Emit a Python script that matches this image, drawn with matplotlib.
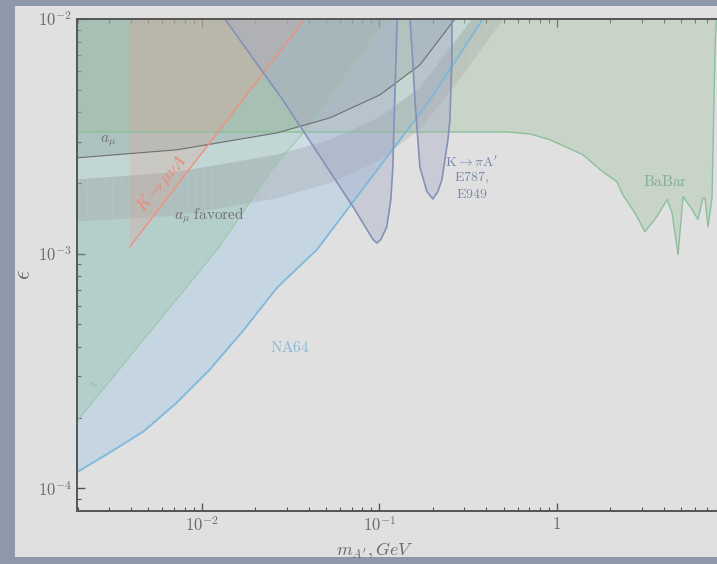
import matplotlib
matplotlib.use("Agg")
import matplotlib.pyplot as plt
from matplotlib.patches import Rectangle

plt.rcParams["mathtext.fontset"] = "cm"
plt.rcParams["font.family"] = "serif"
plt.rcParams["font.serif"] = ["DejaVu Serif"]
plt.rcParams["hatch.linewidth"] = 0.6

# --- data (mass in GeV, epsilon) ---
na64_m = [1.98e-3, 3.03e-3, 4.71e-3, 7.23e-3, 1.11e-2, 1.73e-2, 2.65e-2, 4.45e-2, 9.44e-2, 0.193, 0.383]
na64_eps = [1.17e-4, 1.42e-4, 1.75e-4, 2.32e-4, 3.21e-4, 4.75e-4, 7.16e-4, 1.04e-3, 2.21e-3, 4.52e-3, 1.0e-2]

ae_m = [1.98e-3, 4.71e-3, 1.22e-2, 2.55e-2, 4.06e-2, 0.110]
ae_eps = [1.93e-4, 4.31e-4, 1.04e-3, 2.34e-3, 3.54e-3, 1.0e-2]

babar_m = [1.0e-3, 0.52, 0.70, 0.91, 1.40, 1.75, 2.18, 2.35, 2.75, 3.13, 3.66, 4.17, 4.45,
           4.81, 5.13, 5.77, 6.23, 6.65, 6.82, 7.09, 7.47, 7.77, 7.9, 10.0]
babar_eps = [3.30e-3, 3.30e-3, 3.24e-3, 3.06e-3, 2.64e-3, 2.28e-3, 2.02e-3, 1.78e-3, 1.49e-3,
             1.24e-3, 1.44e-3, 1.70e-3, 1.49e-3, 9.9e-4, 1.75e-3, 1.54e-3, 1.40e-3, 1.73e-3,
             1.73e-3, 1.30e-3, 1.73e-3, 7.38e-3, 1.0e-2, 1.0e-2]

amu_m = [1.98e-3, 7.23e-3, 2.65e-2, 5.26e-2, 0.1007, 0.169, 0.266, 0.5]
amu_eps = [2.56e-3, 2.77e-3, 3.27e-3, 3.79e-3, 4.75e-3, 6.37e-3, 1.0e-2, 1.9e-2]

fav_m = [1.98e-3, 7.23e-3, 2.65e-2, 5.26e-2, 0.1007, 0.169, 0.266, 0.5]
fav_lo = [1.37e-3, 1.45e-3, 1.72e-3, 2.0e-3, 2.5e-3, 3.4e-3, 5.2e-3, 1.0e-2]
fav_hi = [2.07e-3, 2.23e-3, 2.64e-3, 3.05e-3, 3.82e-3, 5.1e-3, 8.0e-3, 1.5e-2]

kmu_m = [3.93e-3, 3.93e-3, 3.80e-2]
kmu_eps = [1.0e-2, 1.07e-3, 1.0e-2]

e787a_m = [1.348e-2, 2.856e-2, 7.10e-2, 9.19e-2, 9.68e-2, 0.102, 0.110, 0.116, 0.119, 0.122, 0.1256, 0.1256]
e787a_eps = [1.0e-2, 4.52e-3, 1.585e-3, 1.15e-3, 1.11e-3, 1.15e-3, 1.30e-3, 1.70e-3, 2.34e-3, 4.52e-3, 9.4e-3, 1.0e-2]

e787b_m = [0.1486, 0.154, 0.1585, 0.169, 0.185, 0.200, 0.2136, 0.225, 0.243, 0.2495, 0.256, 0.256]
e787b_eps = [1.0e-2, 6.69e-3, 4.52e-3, 2.34e-3, 1.84e-3, 1.71e-3, 1.84e-3, 2.07e-3, 3.05e-3, 3.72e-3, 6.69e-3, 1.0e-2]

xticks = [1e-2, 1e-1, 1]
xtick_labels = [r"$10^{-2}$", r"$10^{-1}$", r"$1$"]
yticks = [1e-4, 1e-3, 1e-2]
ytick_labels = [r"$10^{-4}$", r"$10^{-3}$", r"$10^{-2}$"]

TOP = 1.0

fig = plt.figure(figsize=(7.17, 5.64), dpi=100, facecolor="#8d99a9")
fig.patches.append(Rectangle((15 / 717, 7 / 564), 702 / 717, 551 / 564, transform=fig.transFigure,
                             facecolor="#e0e0e0", edgecolor="none", zorder=-5))
ax = fig.add_axes([77 / 717, 53 / 564, 657.5 / 717, 492 / 564])
ax.set_facecolor("#e0e0e0")
ax.set_xscale("log")
ax.set_yscale("log")

# NA64
ax.fill_between(na64_m, na64_eps, TOP, facecolor="#a6c8e4", alpha=0.45, lw=0, zorder=1)
ax.plot(na64_m, na64_eps, color="#7db9da", lw=1.3, zorder=5)

# a_e
ax.fill_between(ae_m, ae_eps, TOP, facecolor="#8fbf9c", alpha=0.3, lw=0, zorder=2)
ax.plot(ae_m, ae_eps, color="#9cc8a8", lw=0.8, zorder=5)

# BaBar
ax.fill_between(babar_m, babar_eps, TOP, facecolor="#a5c2a5", alpha=0.4, lw=0, zorder=2)
ax.plot(babar_m, babar_eps, color="#8cbf9c", lw=1.0, zorder=5)

# a_mu excluded
ax.fill_between(amu_m, amu_eps, TOP, facecolor="#8a8a8a", alpha=0.15, lw=0, zorder=3)
ax.plot(amu_m, amu_eps, color="#6e6e6e", lw=0.8, zorder=5)

# light band above the favored band
ax.fill_between(fav_m, fav_hi, amu_eps, facecolor="white", alpha=0.18, lw=0, zorder=3)

# a_mu favored
ax.fill_between(fav_m, fav_lo, fav_hi, facecolor="#9a9a9a", alpha=0.25, hatch="||",
                edgecolor="#cfcfcf", lw=0, zorder=3)

# K -> mu nu A
ax.fill(kmu_m, kmu_eps, facecolor="#e8a090", alpha=0.25, lw=0, zorder=4)
ax.plot(kmu_m[1:], kmu_eps[1:], color="#f0907c", lw=1.0, zorder=5)

# K -> pi A' (E787, E949)
for m, e in [(e787a_m, e787a_eps), (e787b_m, e787b_eps)]:
    ax.fill(m, e, facecolor="#a4aac8", alpha=0.4, lw=0, zorder=4)
    ax.plot(m, e, color="#8392b8", lw=1.2, zorder=5)

ax.set_xlim(1.98e-3, 10)
ax.set_ylim(8e-5, 1e-2)
ax.set_xticks(xticks, xtick_labels)
ax.set_yticks(yticks, ytick_labels)
ax.tick_params(which="both", direction="in", top=True, right=True, colors="#555555",
               labelcolor="#6a6a6a", labelsize=12)
ax.tick_params(which="major", length=6, width=1)
ax.tick_params(which="minor", length=3, width=0.8)
for s in ax.spines.values():
    s.set_color("#555555")
    s.set_linewidth(1.4)
    s.set_zorder(6)

ax.set_xlabel(r"$m_{A'}, GeV$", fontsize=13, color="#6a6a6a")
ax.xaxis.set_label_coords(0.453, -0.06)
ax.set_ylabel(r"$\epsilon$", fontsize=17, color="#6a6a6a")
ax.yaxis.set_label_coords(-0.064, 0.48)

txt = dict(fontsize=11, ha="center", va="center", zorder=7)
ax.text(3.13e-2, 3.98e-4, r"$\mathrm{NA64}$", color="#8ab8d8", **txt)
ax.text(4.06, 2.02e-3, r"$\mathrm{BaBar}$", color="#80b090", **txt)
ax.text(2.95e-3, 3.0e-3, r"$a_\mu$", color="#707070", **txt)
ax.text(1.10e-2, 1.45e-3, r"$a_\mu\ \mathrm{favored}$", color="#707070", **txt)
ax.text(2.43e-3, 2.74e-4, r"$a_e$", color="#84b894", fontsize=7, ha="center", va="center", zorder=7)
ax.text(5.95e-3, 2.0e-3, r"$K\to\mu\nu A$", color="#e88878", fontsize=12, rotation=50,
        ha="center", va="center", zorder=7)
ax.text(0.33, 2.1e-3, "$\\mathrm{K}{\\to}\\pi\\mathrm{A'}$\n$\\mathrm{E787,}$\n$\\mathrm{E949}$",
        color="#7888aa", fontsize=10, ha="center", va="center", linespacing=1.05, zorder=7)

fig.savefig("out.png", dpi=100, facecolor=fig.get_facecolor())
